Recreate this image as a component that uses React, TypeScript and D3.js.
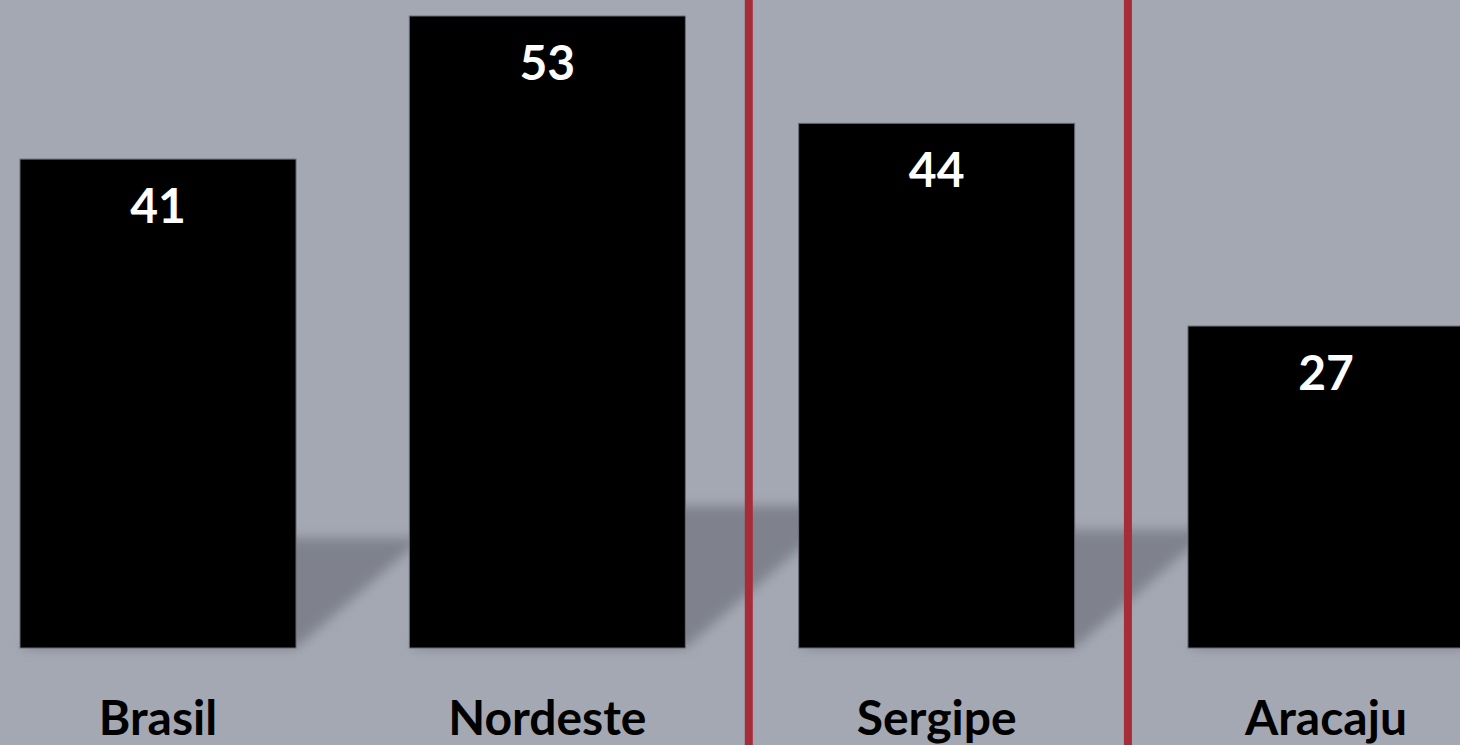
import React, { useEffect, useRef } from "react";
import * as d3 from "d3";

const categories = ["Brasil", "Nordeste", "Sergipe", "Aracaju"];
const values = [41, 53, 44, 27];
// red separators sit after these categories (fraction across the gap)
const separatorsAfter = ["Nordeste", "Sergipe"];
const separatorFrac = [0.56, 0.47];

const W = 1460;
const H = 745;
const FONT = "Lato, 'Open Sans', sans-serif";

const App = () => {
  const ref = useRef<SVGSVGElement>(null);

  useEffect(() => {
    document.body.style.margin = "0";
    const svg = d3.select(ref.current);
    svg.selectAll("*").remove();

    const x = d3
      .scaleBand<string>()
      .domain(categories)
      .range([20, 1464])
      .paddingInner(0.291)
      .paddingOuter(0);

    const y = d3.scaleLinear().domain([0, 53]).range([648, 16]);
    const base = y(0);
    const gap = x.step() - x.bandwidth();

    svg.append("rect").attr("width", W).attr("height", H).attr("fill", "#a4a8b3");

    const defs = svg.append("defs");
    defs
      .append("filter")
      .attr("id", "blur")
      .attr("x", "-20%")
      .attr("y", "-20%")
      .attr("width", "140%")
      .attr("height", "140%")
      .append("feGaussianBlur")
      .attr("stdDeviation", 6);

    // floor shadows cast up and to the right
    const data = categories.map((c, i) => ({ c, v: values[i] }));
    svg
      .append("g")
      .attr("filter", "url(#blur)")
      .selectAll("polygon")
      .data(data)
      .join("polygon")
      .attr("fill", "#7f828c")
      .attr("points", (d) => {
        const x0 = x(d.c)!;
        const x1 = x0 + x.bandwidth();
        const sh = (base - y(d.v)) * 0.225;
        const dx = sh * 1.15;
        const top = base - sh;
        return [
          [x0, base],
          [x1, base],
          [x1 + dx, top],
          [x0 + dx, top],
        ]
          .map((p) => p.join(","))
          .join(" ");
      });

    // separators
    const sepX = (c: string, i: number) =>
      x(c)! + x.bandwidth() + gap * separatorFrac[i];
    svg
      .selectAll(".sep")
      .data(separatorsAfter)
      .join("line")
      .attr("class", "sep")
      .attr("x1", sepX)
      .attr("x2", sepX)
      .attr("y1", 0)
      .attr("y2", H)
      .attr("stroke", "#a72c3a")
      .attr("stroke-width", 8);

    svg
      .selectAll(".bar")
      .data(data)
      .join("rect")
      .attr("class", "bar")
      .attr("x", (d) => x(d.c)!)
      .attr("y", (d) => y(d.v))
      .attr("width", x.bandwidth())
      .attr("height", (d) => base - y(d.v))
      .attr("fill", "#000")
      .attr("stroke", "#6a6d76")
      .attr("stroke-width", 1);

    svg
      .selectAll(".val")
      .data(data)
      .join("text")
      .attr("class", "val")
      .attr("x", (d) => x(d.c)! + x.bandwidth() / 2)
      .attr("y", (d) => y(d.v) + 64)
      .attr("text-anchor", "middle")
      .attr("fill", "#fff")
      .attr("font-family", FONT)
      .attr("font-weight", "bold")
      .attr("font-size", 48)
      .text((d) => d.v);

    svg
      .selectAll(".cat")
      .data(data)
      .join("text")
      .attr("class", "cat")
      .attr("x", (d) => x(d.c)! + x.bandwidth() / 2)
      .attr("y", 735)
      .attr("text-anchor", "middle")
      .attr("fill", "#000")
      .attr("font-family", FONT)
      .attr("font-weight", "bold")
      .attr("font-size", 48)
      .text((d) => d.c);
  }, []);

  return <svg ref={ref} width={W} height={H} style={{ display: "block" }} />;
};

export default App;
